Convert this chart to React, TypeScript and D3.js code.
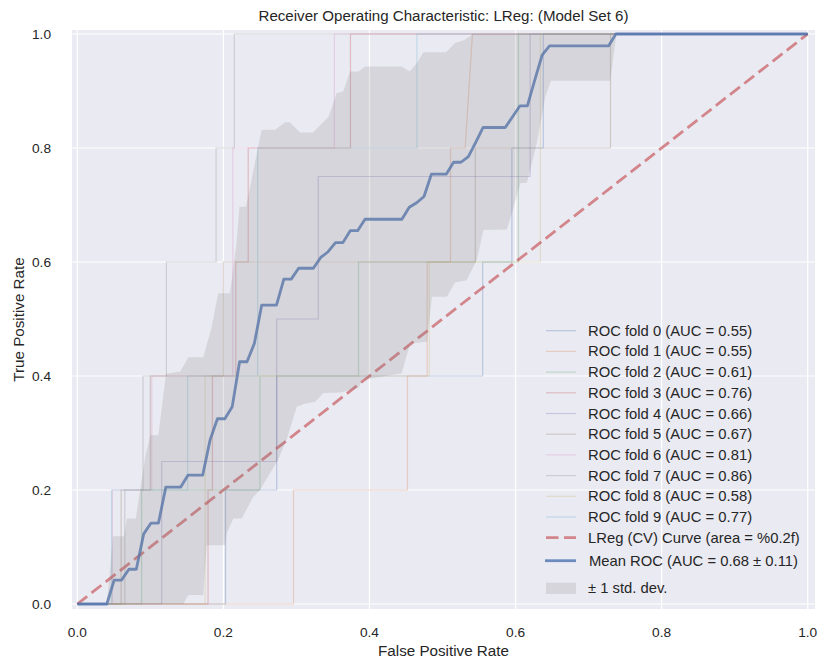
import React from 'react';
import * as d3 from 'd3';

const W = 819;
const H = 660;

const title = 'Receiver Operating Characteristic: LReg: (Model Set 6)';
const xLabel = 'False Positive Rate';
const yLabel = 'True Positive Rate';
const ticks = [0, 0.2, 0.4, 0.6, 0.8, 1.0];

const foldAuc = [0.55, 0.55, 0.61, 0.76, 0.66, 0.67, 0.81, 0.86, 0.58, 0.77];
const foldColors = ['#4c72b0', '#dd8452', '#55a868', '#c44e52', '#8172b3', '#937860', '#da8bc3', '#8c8c8c', '#ccb974', '#64b5cd'];

// step curves per fold
const foldFpr = [
  [0, 0.203, 0.203, 0.273, 0.273, 0.555, 0.555, 0.595, 0.595, 0.638, 0.638, 1],
  [0, 0.296, 0.296, 0.452, 0.452, 0.479, 0.479, 0.511, 0.511, 0.531, 0.541, 1],
  [0, 0.088, 0.088, 0.25, 0.25, 0.385, 0.385, 0.604, 0.604, 1],
  [0, 0.179, 0.179, 0.185, 0.185, 0.217, 0.217, 0.234, 0.234, 0.374, 0.374, 1],
  [0, 0.1155, 0.1155, 0.273, 0.273, 0.33, 0.33, 0.62, 0.62, 1],
  [0, 0.06, 0.06, 0.1, 0.1, 0.2, 0.2, 0.545, 0.545, 0.73, 0.73, 1],
  [0, 0.048, 0.048, 0.102, 0.102, 0.213, 0.213, 0.352, 0.352, 1],
  [0, 0.065, 0.065, 0.09, 0.09, 0.122, 0.122, 0.19, 0.19, 0.215, 0.215, 1],
  [0, 0.175, 0.175, 0.482, 0.482, 0.634, 0.634, 1],
  [0, 0.047, 0.047, 0.151, 0.151, 0.247, 0.247, 0.465, 0.465, 1],
];
const foldTpr = [
  [0, 0, 0.2, 0.2, 0.4, 0.4, 0.6, 0.6, 0.8, 0.8, 1, 1],
  [0, 0, 0.2, 0.2, 0.4, 0.4, 0.6, 0.6, 0.8, 0.8, 1, 1],
  [0, 0, 0.2, 0.2, 0.4, 0.4, 0.6, 0.6, 1, 1],
  [0, 0, 0.2, 0.2, 0.4, 0.4, 0.6, 0.6, 0.8, 0.8, 1, 1],
  [0, 0, 0.25, 0.25, 0.5, 0.5, 0.75, 0.75, 1, 1],
  [0, 0, 0.2, 0.2, 0.4, 0.4, 0.6, 0.6, 0.8, 0.8, 1, 1],
  [0, 0, 0.2, 0.2, 0.4, 0.4, 0.8, 0.8, 1, 1],
  [0, 0, 0.2, 0.2, 0.4, 0.4, 0.6, 0.6, 0.8, 0.8, 1, 1],
  [0, 0, 0.4, 0.4, 0.6, 0.6, 1, 1],
  [0, 0, 0.2, 0.2, 0.4, 0.4, 0.8, 0.8, 1, 1],
];

// mean ROC vertices
const meanFpr = [0, 0.0404, 0.0505, 0.0606, 0.0707, 0.0808, 0.0909, 0.101, 0.1111, 0.1212, 0.1414, 0.1515, 0.1717, 0.1818, 0.1919, 0.202, 0.2121, 0.2222, 0.2323, 0.2424, 0.2525, 0.2727, 0.2828, 0.2929, 0.303, 0.3232, 0.3333, 0.3434, 0.3535, 0.3636, 0.3737, 0.3838, 0.3939, 0.4444, 0.4545, 0.4646, 0.4747, 0.4848, 0.5051, 0.5152, 0.5253, 0.5354, 0.5455, 0.5556, 0.5859, 0.6061, 0.6162, 0.6263, 0.6364, 0.6465, 0.7273, 0.7374, 1];
const meanTpr = [0, 0, 0.042, 0.042, 0.061, 0.061, 0.123, 0.142, 0.142, 0.205, 0.205, 0.226, 0.226, 0.288, 0.325, 0.325, 0.346, 0.425, 0.425, 0.457, 0.5245, 0.5245, 0.57, 0.57, 0.589, 0.589, 0.608, 0.618, 0.634, 0.634, 0.655, 0.655, 0.675, 0.675, 0.696, 0.704, 0.715, 0.754, 0.754, 0.775, 0.775, 0.785, 0.81, 0.836, 0.836, 0.874, 0.874, 0.919, 0.963, 0.979, 0.979, 1, 1];

// +/- 1 std band edges
const upperFpr = [0, 0.0404, 0.049, 0.064, 0.068, 0.08, 0.093, 0.1, 0.111, 0.1215, 0.141, 0.152, 0.1725, 0.184, 0.191, 0.193, 0.209, 0.218, 0.222, 0.231, 0.2525, 0.271, 0.2845, 0.291, 0.305, 0.323, 0.344, 0.355, 0.364, 0.3736, 0.385, 0.394, 0.444, 0.455, 0.465, 0.474, 0.505, 0.517, 0.529, 0.5425, 1];
const upperTpr = [0, 0, 0.119, 0.119, 0.15, 0.15, 0.258, 0.296, 0.296, 0.404, 0.408, 0.433, 0.433, 0.486, 0.533, 0.545, 0.545, 0.633, 0.697, 0.697, 0.832, 0.832, 0.845, 0.845, 0.827, 0.827, 0.855, 0.896, 0.899, 0.934, 0.934, 0.943, 0.943, 0.934, 0.949, 0.968, 0.968, 0.984, 0.989, 1, 1];
const lowerFpr = [0, 0.145, 0.152, 0.1725, 0.177, 0.2025, 0.2045, 0.2137, 0.225, 0.241, 0.25, 0.275, 0.287, 0.3005, 0.31, 0.3256, 0.337, 0.36, 0.385, 0.39, 0.444, 0.4557, 0.4786, 0.4855, 0.506, 0.517, 0.533, 0.547, 0.556, 0.588, 0.595, 0.6065, 0.6156, 0.629, 0.6407, 0.6485, 0.7297, 0.738, 1];
const lowerTpr = [0, 0, 0.016, 0.016, 0.103, 0.103, 0.124, 0.15, 0.15, 0.188, 0.2, 0.253, 0.29, 0.346, 0.351, 0.355, 0.37, 0.371, 0.379, 0.393, 0.405, 0.457, 0.46, 0.539, 0.539, 0.564, 0.568, 0.604, 0.656, 0.657, 0.685, 0.738, 0.739, 0.808, 0.89, 0.918, 0.918, 1, 1];

const chanceLabel = 'LReg (CV) Curve (area = %0.2f)';
const meanLabel = 'Mean ROC (AUC = 0.68 \u00b1 0.11)';
const stdLabel = '\u00b1 1 std. dev.';

const FONT = '"Liberation Sans", Arial, sans-serif';
const TEXT = '#262626';
const LEG_FS = 14.8;
const TICK_FS = 13.7;
const LABEL_FS = 15.2;

export default function App() {
  const x = d3.scaleLinear().domain([0, 1]).range([77.3, 807.7]);
  const y = d3.scaleLinear().domain([0, 1]).range([604, 34]);
  const box = { x0: 72, x1: 815, y0: 30, y1: 609 };

  const line = d3.line<number[]>().x((d) => x(d[0])).y((d) => y(d[1]));
  const zipPts = (a: number[], b: number[]) => a.map((v, i) => [v, b[i]]);

  const upper = zipPts(upperFpr, upperTpr);
  const lower = zipPts(lowerFpr, lowerTpr).reverse();
  const band = line(upper.concat(lower)) + 'Z';

  // legend rows
  const legX0 = 546;
  const legX1 = 576;
  const legTextX = 588;
  const foldRowY = foldAuc.map((_, i) => 330.7 + i * 20.7);

  return (
    <div style={{ position: 'absolute', left: 0, top: 0 }}>
      <svg width={W} height={H} style={{ display: 'block', background: '#fff' }} fontFamily={FONT}>
        <rect x={box.x0} y={box.y0} width={box.x1 - box.x0} height={box.y1 - box.y0} fill="#eaeaf2" />
        {ticks.map((t) => (
          <g key={'g' + t}>
            <line x1={x(t)} x2={x(t)} y1={box.y0} y2={box.y1} stroke="#fff" strokeWidth={1.2} />
            <line x1={box.x0} x2={box.x1} y1={y(t)} y2={y(t)} stroke="#fff" strokeWidth={1.2} />
          </g>
        ))}

        {foldFpr.map((f, i) => (
          <path key={'f' + i} d={line(zipPts(f, foldTpr[i])) || ''} fill="none" stroke={foldColors[i]} strokeOpacity={0.3} strokeWidth={1.2} />
        ))}

        <path d={line([[0, 0], [1, 1]]) || ''} fill="none" stroke="#c44e52" strokeOpacity={0.65} strokeWidth={2.8} strokeDasharray="12.5,5.5" />

        <path d={line(zipPts(meanFpr, meanTpr)) || ''} fill="none" stroke="#4c72b0" strokeOpacity={0.8} strokeWidth={2.8} strokeLinejoin="round" />

        <path d={band} fill="#808080" fillOpacity={0.2} stroke="none" />

        {/* ticks */}
        {ticks.map((t) => (
          <g key={'t' + t} fill={TEXT} fontSize={TICK_FS}>
            <text x={x(t)} y={632} textAnchor="middle" dominantBaseline="central">{t.toFixed(1)}</text>
            <text x={51} y={y(t)} textAnchor="end" dominantBaseline="central">{t.toFixed(1)}</text>
          </g>
        ))}
        <text x={(box.x0 + box.x1) / 2} y={650} textAnchor="middle" dominantBaseline="central" fontSize={LABEL_FS} fill={TEXT}>{xLabel}</text>
        <text transform={`translate(18,${(box.y0 + box.y1) / 2}) rotate(-90)`} textAnchor="middle" dominantBaseline="central" fontSize={LABEL_FS} fill={TEXT}>{yLabel}</text>
        <text x={(box.x0 + box.x1) / 2} y={15} textAnchor="middle" dominantBaseline="central" fontSize={15.1} fill={TEXT}>{title}</text>

        {/* legend */}
        {foldAuc.map((a, i) => (
          <g key={'l' + i}>
            <line x1={legX0} x2={legX1} y1={foldRowY[i]} y2={foldRowY[i]} stroke={foldColors[i]} strokeOpacity={0.3} strokeWidth={1.2} />
            <text x={legTextX} y={foldRowY[i]} dominantBaseline="central" fontSize={LEG_FS} fill={TEXT}>{`ROC fold ${i} (AUC = ${a.toFixed(2)})`}</text>
          </g>
        ))}
        <line x1={legX0} x2={legX1} y1={537.7} y2={537.7} stroke="#c44e52" strokeOpacity={0.65} strokeWidth={2.8} strokeDasharray="12.5,5.5" />
        <text x={legTextX} y={537.7} dominantBaseline="central" fontSize={LEG_FS} fill={TEXT}>{chanceLabel}</text>
        <line x1={legX0 - 1} x2={legX1} y1={560.7} y2={560.7} stroke="#4c72b0" strokeOpacity={0.8} strokeWidth={2.8} />
        <text x={legTextX + 1} y={560.7} dominantBaseline="central" fontSize={LEG_FS} fill={TEXT}>{meanLabel}</text>
        <rect x={legX0} y={582.7} width={legX1 - legX0} height={11.3} fill="#808080" fillOpacity={0.2} />
        <text x={legTextX} y={588.3} dominantBaseline="central" fontSize={LEG_FS} fill={TEXT}>{stdLabel}</text>
      </svg>
    </div>
  );
}
